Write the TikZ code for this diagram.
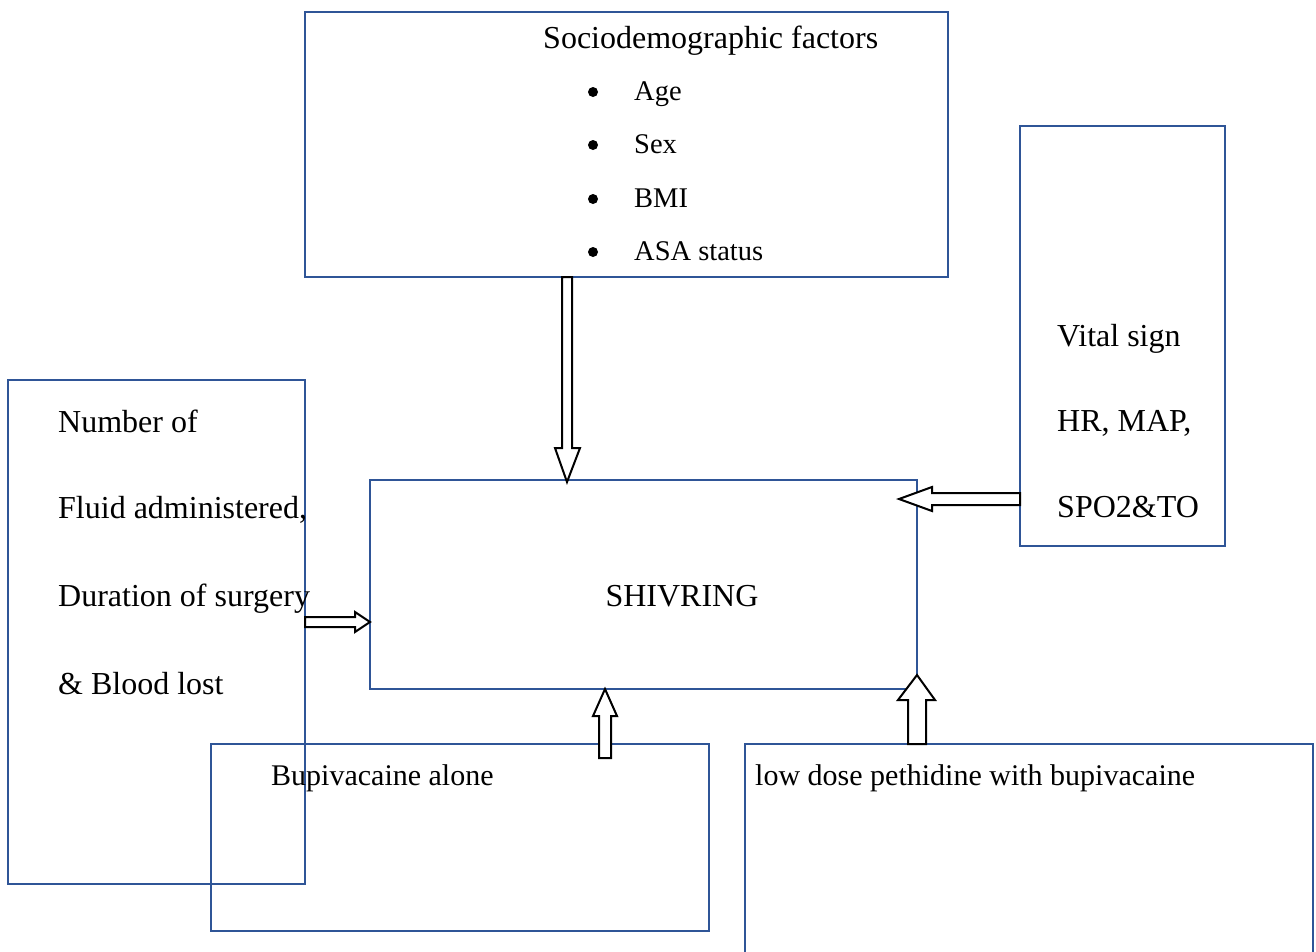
\documentclass[tikz,border=0pt]{standalone}
\usepackage{fontspec}
\setmainfont{Liberation Serif}
\usetikzlibrary{calc}
\definecolor{boxblue}{RGB}{47,85,151}
\tikzset{
  frame/.style={draw=boxblue, line width=2pt},
  lbl/.style={anchor=base west, inner sep=0pt, font=\fontsize{32}{36}\selectfont},
  small/.style={font=\fontsize{28.5}{32}\selectfont},
  mid/.style={font=\fontsize{30}{34}\selectfont},
  blk/.style={draw=black, line width=2pt, fill=white, line join=miter},
}
\begin{document}
\begin{tikzpicture}[x=1pt,y=-1pt]
\useasboundingbox (0,0) rectangle (1316,951);
% boxes
\draw[frame] (305,12) rectangle (948,277);
\draw[frame] (1020,126) rectangle (1225,546);
\draw[frame] (8,380) rectangle (305,884);
\draw[frame] (370,480) rectangle (917,689);
\draw[frame] (211,744) rectangle (709,931);
\draw[frame] (745,960) -- (745,744) -- (1313,744) -- (1313,960);
% texts
\node[lbl] (t0) at (543,48) {Sociodemographic factors};
\foreach \y/\t [count=\i] in {100/Age,153/Sex,207/BMI,260/ASA status}{
  \node[lbl,small] (b\i) at (634,\y) {\t};
  \fill (593,\y-8) circle (5);
}
\node[lbl] (v1) at (1057,346) {Vital sign};
\node[lbl] (v2) at (1057,431) {HR, MAP,};
\node[lbl] (v3) at (1057,517) {SPO2\&TO};
\node[lbl] (n1) at (58,432) {Number of};
\node[lbl] (n2) at (58,518) {Fluid administered,};
\node[lbl] (n3) at (58,606) {Duration of surgery};
\node[lbl] (n4) at (58,694) {\& Blood lost};
\node[lbl, anchor=base] (sh) at (682,606) {SHIVRING};
\node[lbl,mid] (bu) at (271,785) {Bupivacaine alone};
\node[lbl,mid] (lo) at (755,785) {low dose pethidine with bupivacaine};
% block arrows
\draw[blk] (562,277) -- (572,277) -- (572,448) -- (580,448) -- (567,482) -- (555,448) -- (562,448) -- cycle;
\draw[blk] (1020,493) -- (932,493) -- (932,487) -- (899,499) -- (932,511) -- (932,505) -- (1020,505) -- cycle;
\draw[blk] (305,617) -- (355,617) -- (355,612) -- (370,622) -- (355,632) -- (355,627) -- (305,627) -- cycle;
\draw[blk] (599,758) -- (599,716) -- (593,716) -- (605,689) -- (617,716) -- (611,716) -- (611,758) -- cycle;
\draw[blk] (908,744) -- (908,700) -- (898,700) -- (917,675) -- (935,700) -- (926,700) -- (926,744) -- cycle;
\end{tikzpicture}
\end{document}
